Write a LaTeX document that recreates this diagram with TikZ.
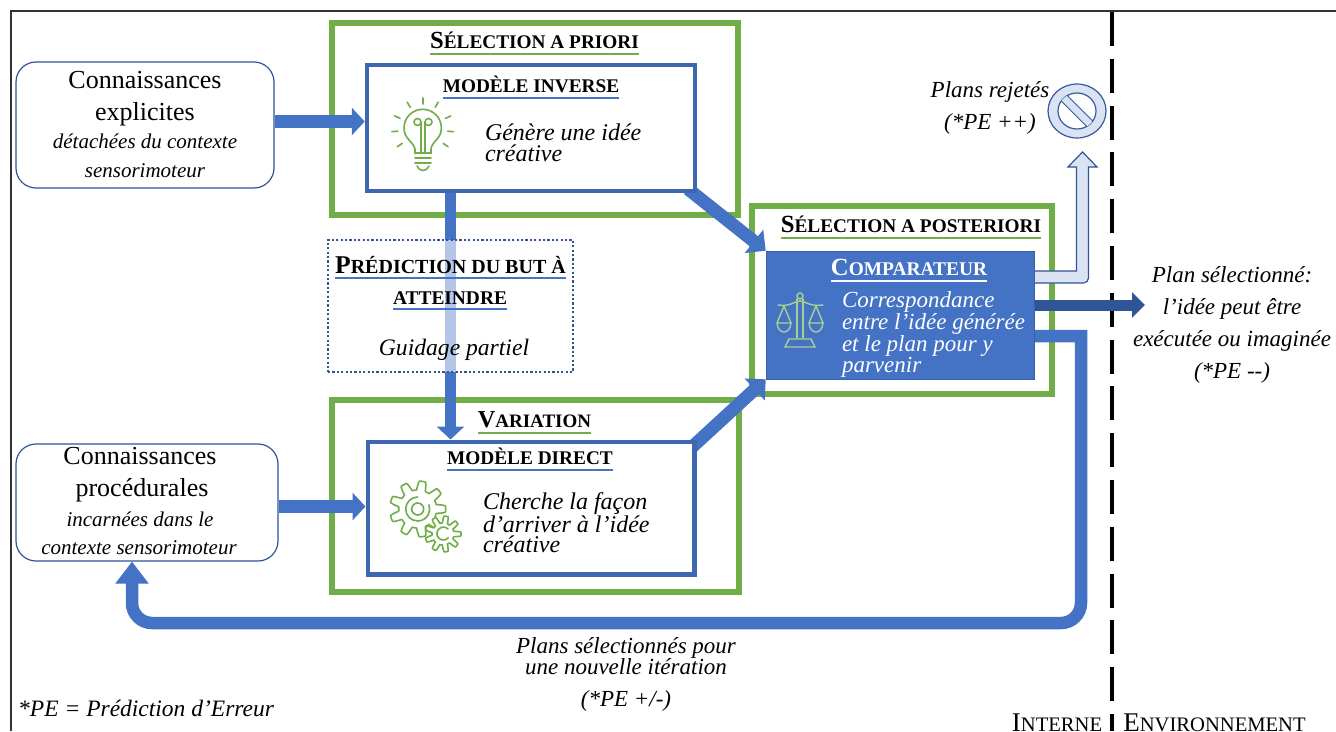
\documentclass[tikz,border=0pt]{standalone}
\usepackage{fontspec}
\setmainfont{Liberation Serif}
\usetikzlibrary{arrows.meta,calc,shapes.geometric}
\definecolor{gr}{HTML}{70AD47}
\definecolor{bl}{HTML}{4472C4}
\definecolor{dk}{HTML}{2F5597}
\definecolor{lt}{HTML}{DAE3F3}
\definecolor{lg}{HTML}{A9D18E}
\pgfdeclarelayer{bg}
\pgfdeclarelayer{mid}
\pgfsetlayers{bg,mid,main}
\newcommand\fs[1]{\fontsize{#1pt}{#1pt}\selectfont}
\newcommand\sca[4]{{\fs{#1}#3}{\fs{#2}#4}}
\newcommand\smalli[1]{{\fontsize{21pt}{29pt}\selectfont\itshape #1}}
\tikzset{
 x=1pt,y=-1pt,
 greenbox/.style={draw=gr,line width=6pt,inner sep=0pt,outer sep=3pt},
 modelbox/.style={draw=bl!90!black,line width=4.5pt,fill=white,inner sep=0pt,outer sep=2.25pt},
 knowbox/.style={draw=dk,line width=1.2pt,rounded corners=20pt,fill=white,inner sep=0pt,align=center,font=\fontsize{26pt}{32pt}\selectfont},
 predbox/.style={draw=dk,line width=2.2pt,dash pattern=on 2.2pt off 2.2pt,fill=white,fill opacity=.6,inner sep=0pt},
 cmpbox/.style={draw=dk!60!bl,line width=.6pt,fill=bl,inner sep=0pt},
 lab/.style={inner sep=0pt,outer sep=0pt,anchor=base},
 it/.style n args={2}{font=\fontsize{#1pt}{#2pt}\selectfont\itshape},
 txt/.style={inner sep=0pt,outer sep=0pt,align=left,anchor=north west},
 ctxt/.style={inner sep=0pt,outer sep=0pt,align=center},
 ulg/.style={draw=gr,line width=1.5pt},
 ulb/.style={draw=bl,line width=1.5pt},
 ulw/.style={draw=white,line width=1.5pt},
 fat/.style={draw=bl,line width=13pt,-{Triangle[length=13pt,width=27pt]}},
 icon/.style={draw=gr,line width=1.6pt,line cap=round},
 ico2/.style={draw=lg,line width=1.4pt,line cap=round},
}
\begin{document}
\begin{tikzpicture}
\useasboundingbox (0,0) rectangle (1336,731);
% frame, boundary, selection frames
\begin{pgfonlayer}{bg}
\coordinate (tl) at (11,11);
\coordinate (tr) at (1336,11);
\coordinate (bl0) at (11,731);
\coordinate (dtop) at (1112,12);
\coordinate (dbot) at (1112,731);
\draw[black!80,line width=1.3pt] (bl0) -- (tl) -- (tr);
\draw[black,line width=3.6pt,dash pattern=on 34pt off 12.8pt] (dtop) -- (dbot);
\node[greenbox,minimum width=406pt,minimum height=192pt] (sap) at (535,119) {};
\node[greenbox,minimum width=407pt,minimum height=192pt] (var) at (535,496) {};
\node[greenbox,minimum width=300pt,minimum height=188pt] (spo) at (902,300) {};
\end{pgfonlayer}
% nodes
\node[modelbox,minimum width=328pt,minimum height=126pt] (mi) at (531,128) {};
\node[modelbox,minimum width=326.5pt,minimum height=132.5pt] (md) at (531,508) {};
\node[cmpbox,minimum width=268pt,minimum height=128pt] (cmp) at (900,315) {};
\node[predbox,minimum width=245pt,minimum height=132pt] (pred) at (450.5,306) {};
\node[knowbox,minimum width=258pt,minimum height=126pt] (ce) at (145,125)
 {Connaissances\\explicites\\[-4pt]\smalli{détachées du contexte}\\[-3pt]\smalli{sensorimoteur}};
\node[knowbox,minimum width=262pt,minimum height=117pt] (cp) at (147,502.5)
 {Connaissances\kern14pt\\procédurales\kern10pt\\[-2pt]\smalli{incarnées dans le}\kern14pt\\[-4pt]\smalli{contexte sensorimoteur}\kern16pt\rule[-4pt]{0pt}{0pt}};
\node[draw=bl!80!black,line width=1.2pt,fill=lt,ellipse,minimum width=58pt,minimum height=54pt,inner sep=0pt] (rej) at (1077,111) {};
% connectors
\begin{pgfonlayer}{mid}
\coordinate (vx) at (450.5,0);
\coordinate (y1) at (0,121.5);
\coordinate (y2) at (0,506.5);
\draw[fat] (ce.east |- y1) -- (mi.west |- y1);
\draw[fat] (cp.east |- y2) -- (md.west |- y2);
\draw[fat,line width=11.5pt] (vx |- mi.south) -- (vx |- md.north);
\coordinate (d1) at (688,189);
\coordinate (d2) at (690,449);
\draw[fat,line width=13pt,-{Triangle[length=15pt,width=29pt]}] (d1) -- (cmp.north west);
\draw[fat,line width=13pt,-{Triangle[length=15pt,width=29pt]}] (d2) -- (cmp.south west);
% rejected plans
\coordinate (ra) at (1030,271);
\coordinate (rb) at (1076.5,271);
\coordinate (rc) at (1076.5,167);
\coordinate (rd) at (1068,167);
\coordinate (re) at (1082.5,152);
\coordinate (rf) at (1097,167);
\coordinate (rg) at (1088.5,167);
\coordinate (rh) at (1088.5,283);
\coordinate (ri) at (1030,283);
\draw[draw=dk,fill=lt,line width=1.2pt] (ra) -- (rb) -- (rc) -- (rd) -- (re) -- (rf) -- (rg) [rounded corners=5pt] -- (rh) -- (ri);
% selected plan
\coordinate (sel) at (1145,305);
\draw[draw=dk,line width=11pt,-{Triangle[length=13pt,width=25pt]}] (cmp.east |- sel) -- (sel);
% iteration
\coordinate (la) at (1081,336);
\coordinate (lb) at (1081,623);
\coordinate (lc) at (132,623);
\draw[draw=bl,line width=12.5pt,-{Triangle[length=22pt,width=32pt]}] (cmp.east |- la) -- (la) [rounded corners=20pt] -- (lb) -- (lc) -- (lc |- cp.south);
\end{pgfonlayer}
% titles
\node[lab,font=\bfseries] (t1) at (534.5,48) {\sca{24.6}{19.3}{S}{ÉLECTION A PRIORI}};
\draw[ulg] ([yshift=-6pt]t1.base west) -- ([yshift=-6pt]t1.base east);
\node[lab,font=\bfseries] (t2) at (531,92) {\sca{19.3}{19.3}{}{MODÈLE INVERSE}};
\draw[ulb] ([yshift=-6pt]t2.base west) -- ([yshift=-6pt]t2.base east);
\node[lab,font=\bfseries] (t3) at (450.5,273) {\sca{25.6}{20}{P}{RÉDICTION DU BUT À}};
\draw[ulb] ([yshift=-5pt]t3.base west) -- ([yshift=-5pt]t3.base east);
\node[lab,font=\bfseries] (t4) at (450,304) {\sca{19.4}{19.4}{}{ATTEINDRE}};
\draw[ulb] ([yshift=-5pt]t4.base west) -- ([yshift=-5pt]t4.base east);
\node[lab,font=\bfseries] (t5) at (534.5,427) {\sca{24.3}{19}{V}{ARIATION}};
\draw[ulg] ([yshift=-6pt]t5.base west) -- ([yshift=-6pt]t5.base east);
\node[lab,font=\bfseries] (t6) at (530,464) {\sca{19.3}{19.3}{}{MODÈLE DIRECT}};
\draw[ulb] ([yshift=-6pt]t6.base west) -- ([yshift=-6pt]t6.base east);
\node[lab,font=\bfseries] (t7) at (911,232) {\sca{24.7}{19.3}{S}{ÉLECTION A POSTERIORI}};
\draw[ulg] ([yshift=-6pt]t7.base west) -- ([yshift=-6pt]t7.base east);
\node[lab,font=\bfseries,text=white] (t8) at (909,275) {\sca{24.7}{19.4}{C}{OMPARATEUR}};
\draw[ulw] ([yshift=-6pt]t8.base west) -- ([yshift=-6pt]t8.base east);
% body texts
\node[lab,it={23.6}{24}] (g1) at (454,355) {Guidage partiel};
\node[txt,it={24}{20.5}] (g2) at (485,124) {Génère une idée\\créative};
\node[txt,it={24}{20.5}] (g3) at (483,492.5) {Cherche la façon\\d’arriver à l’idée\\créative};
\node[txt,it={23}{20.5},text=white] (g4) at (842,292) {Correspondance\\entre l’idée générée\\et le plan pour y\\parvenir};
\node[ctxt,it={23}{32}] (g5) at (990,108) {Plans rejetés\\(*PE ++)};
\node[ctxt,it={23}{32}] (g6) at (1232,325) {Plan sélectionné:\\l’idée peut être\\exécutée ou imaginée\\(*PE -{}-)};
\node[ctxt,it={23}{21}] (g7) at (626,674.5) {Plans sélectionnés pour\\une nouvelle itération\\[11pt](*PE +/-)};
\node[inner sep=0pt,anchor=base west,it={23.5}{24}] (g8) at (18,716) {*PE = Prédiction d’Erreur};
\node[lab] (in) at (1057,731) {\sca{27}{20.6}{I}{NTERNE}};
\node[lab] (en) at (1214.5,731) {\sca{27}{20.6}{E}{NVIRONNEMENT}};
% bulb
\begin{scope}[icon]
\draw (415,153) -- (415,149) .. controls (413,141) and (404,139) .. (404,128) arc[start angle=180,end angle=0,x radius=18.7pt,y radius=18.7pt] .. controls (441.4,139) and (432,141) .. (431,149) -- (431,153) -- cycle;
\draw (415,158) -- (431,158) (415,163) -- (431,163);
\draw (417,166) .. controls (419,172) and (427,172) .. (429,166);
\draw (421,153) -- (421,122) (425,153) -- (425,122);
\draw (417.5,122) circle[radius=3.5pt] (428.5,122) circle[radius=3.5pt];
\foreach \a in {90,60,120,25,155,-5,185,-35,215}
 \draw ({422.7+25*cos(\a)},{129-25*sin(\a)}) -- ({422.7+31*cos(\a)},{129-31*sin(\a)});
\end{scope}
% gears
\begin{scope}[icon,line join=round]
\draw[variable=\t,domain=0:360,samples=241] plot ({417.7+(23.5+4.5*max(-1,min(1,2*cos(9*\t))))*cos(\t)},{509+(23.5+4.5*max(-1,min(1,2*cos(9*\t))))*sin(\t)}) -- cycle;
\draw (417.7,509) circle[radius=6pt];
\draw (417.7,497) arc[start angle=90,end angle=380,radius=12pt];
\draw[fill=white,variable=\t,domain=0:360,samples=241] plot ({443+(14.5+3.5*max(-1,min(1,2*cos(9*\t))))*cos(\t)},{534+(14.5+3.5*max(-1,min(1,2*cos(9*\t))))*sin(\t)}) -- cycle;
\draw (448,529) arc[start angle=45,end angle=320,radius=6.5pt];
\end{scope}
% scales
\begin{scope}[ico2]
\draw (800,296) circle[radius=3pt];
\draw (797,299) -- (797,338) (803,299) -- (803,338);
\draw (778,305) .. controls (790,307) and (795,301) .. (800,301) .. controls (805,301) and (810,307) .. (823,305);
\draw (784,306) -- (777,323) (784,306) -- (791,323) (816,306) -- (809,323) (816,306) -- (823,323);
\draw (777,323) -- (791,323) .. controls (790,335) and (778,335) .. (777,323);
\draw (809,323) -- (823,323) .. controls (822,335) and (810,335) .. (809,323);
\draw (789,339) -- (811,339) -- (815,347) -- (785,347) -- cycle;
\end{scope}
% prohibition sign
\draw[draw=bl!80!black,fill=white,line width=1.2pt] (rej) ellipse[x radius=19pt,y radius=18pt];
\begin{scope}
\clip (rej) ellipse[x radius=19pt,y radius=18pt];
\draw[draw=bl!80!black,line width=9pt] (1060,94) -- (1094,128);
\draw[draw=lt,line width=7pt] (1060,94) -- (1094,128);
\end{scope}
\end{tikzpicture}
\end{document}
